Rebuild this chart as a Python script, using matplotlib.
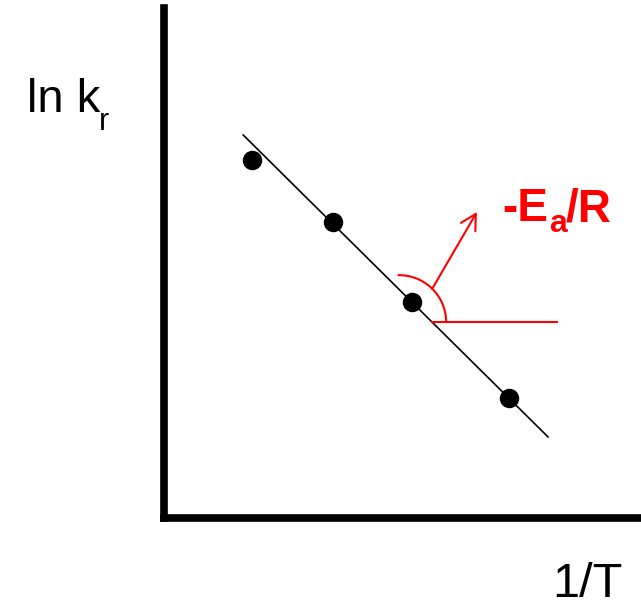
import matplotlib
matplotlib.use('Agg')
import matplotlib.pyplot as plt
from matplotlib.patches import Arc
import numpy as np

# Arrhenius plot data (arbitrary units)
inv_T = [1.84, 3.54, 5.20, 7.23]
ln_k = [7.02, 5.80, 4.24, 2.35]

# fitted straight line
fit_x = [1.66, 8.05]
fit_y = [7.51, 1.59]

# slope angle construction
horiz_x = [5.62, 8.24]
horiz_y = [3.84, 3.84]
arc_center = (4.93, 3.84)
arrow_tail = (5.62, 4.49)
arrow_head = (6.56, 6.00)

W, H = 641, 602
fig = plt.figure(figsize=(W / 100, H / 100), dpi=100)
ax = fig.add_axes([164 / W, 84 / H, 477 / W, 510 / H])
ax.set_xlim(0, 10)
ax.set_ylim(0, 10)

for s in ['top', 'right']:
    ax.spines[s].set_visible(False)
for s in ['left', 'bottom']:
    ax.spines[s].set_linewidth(5.5)
    ax.spines[s].set_capstyle('projecting')
ax.set_xticks([])
ax.set_yticks([])

ax.plot(fit_x, fit_y, color='black', lw=1.2)
ax.plot(inv_T, ln_k, 'o', color='black', ms=13, ls='none')

red = '#ff0000'
ax.plot(horiz_x, horiz_y, color=red, lw=1.5)
ax.add_patch(Arc(arc_center, 94 / 47.7, 94 / 51, theta1=0, theta2=92,
                 color=red, lw=1.5))
ax.annotate('', xy=arrow_head, xytext=arrow_tail,
            arrowprops=dict(arrowstyle='->,head_length=0.55,head_width=0.3',
                            color=red, lw=1.5, mutation_scale=20,
                            shrinkA=0, shrinkB=0))


def label(x, y, s, size, **kw):
    # place text by pixel position (y measured from the top edge)
    fig.text(x / W, (H - y) / H, s, fontsize=size, family='Liberation Sans',
             ha='left', va='baseline', **kw)


# slope label with a dropped subscript
label(502, 221, '-E', 33, color=red, fontweight='bold')
label(549, 232, 'a', 23, color=red, fontweight='bold')
label(566, 221, '/R', 33, color=red, fontweight='bold')

# axis labels
label(27, 112, 'ln k', 34)
label(99, 130, 'r', 22)
label(552, 597, '1/T', 35)

fig.savefig('out.png', dpi=100, facecolor='white')
